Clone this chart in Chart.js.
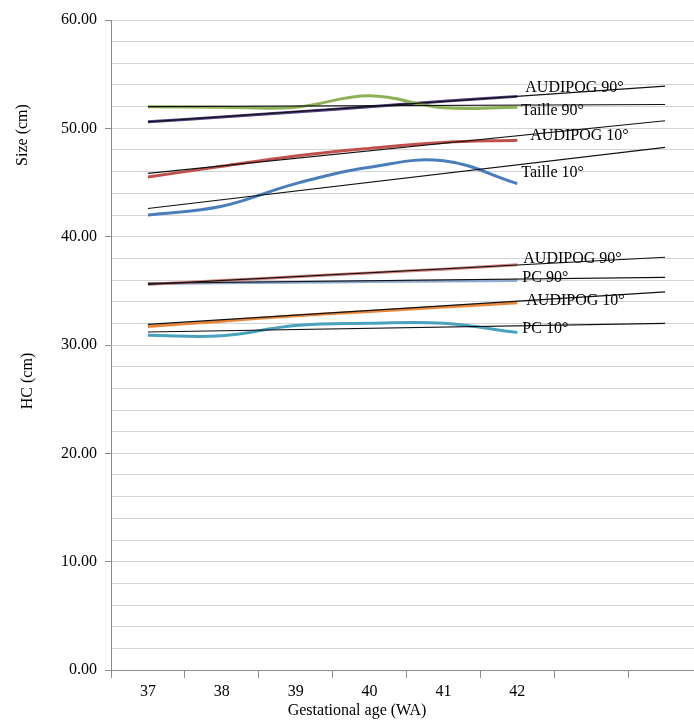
<!DOCTYPE html>
<html>
<head>
<meta charset="utf-8">
<script src="https://cdn.jsdelivr.net/npm/chart.js@4.4.1/dist/chart.umd.min.js"></script>
<style>
    html, body { margin: 0; padding: 0; background: #fff; overflow: hidden; }
</style>
</head>
<body>
<canvas id="chart" width="702" height="722"></canvas>
<script>
// semaines d'aménorrhée, les deux dernières catégories servent au prolongement des tendances
const weeks = ['37', '38', '39', '40', '41', '42', '', '']

// taille (cm)
const taille90 = [52.0, 51.95, 51.95, 53.0, 51.9, 51.95]
const audipogSize90 = [50.6, 51.05, 51.5, 52.0, 52.5, 52.95]
const audipogSize10 = [45.5, 46.5, 47.45, 48.15, 48.7, 48.9]
const taille10 = [42.0, 42.8, 44.9, 46.4, 47.0, 44.9]

// périmètre crânien (cm)
const audipogHc90 = [35.6, 35.95, 36.3, 36.65, 37.0, 37.4]
const pc90 = [35.65, 35.75, 35.8, 35.85, 35.9, 35.95]
const audipogHc10 = [31.7, 32.2, 32.7, 33.1, 33.5, 33.9]
const pc10 = [30.9, 30.85, 31.8, 32.0, 32.0, 31.15]

// courbes de tendance : valeur à 37 SA et valeur au bout du prolongement
const trendTaille90 = [52.0, 52.2]
const trendAudipogSize90 = [50.6, 53.9]
const trendAudipogSize10 = [45.85, 50.7]
const trendTaille10 = [42.6, 48.25]
const trendAudipogHc90 = [35.6, 38.1]
const trendPc90 = [35.7, 36.25]
const trendAudipogHc10 = [31.9, 34.9]
const trendPc10 = [31.2, 32.0]

// étiquettes à droite des courbes
const labelTexts = ['AUDIPOG 90°', 'Taille 90°', 'AUDIPOG 10°', 'Taille 10°', 'AUDIPOG 90°', 'PC 90°', 'AUDIPOG 10°', 'PC 10°']
const labelValues = [53.72, 51.63, 49.29, 45.9, 38.0, 36.2, 34.05, 31.5]
const labelShift = [8, 4, 13, 4, 6, 5, 9, 5]

const yTicks = [0, 10, 20, 30, 40, 50, 60]

const serif = '"Liberation Serif", "Times New Roman", serif'
Chart.defaults.font.family = serif
Chart.defaults.font.size = 16
Chart.defaults.color = '#000'

const trend = (pair) => {
    let arr = weeks.map(() => null)
    arr[0] = pair[0]
    arr[weeks.length - 1] = pair[1]
    return arr
}

const series = (values, color) => ({
    data: values,
    borderColor: color,
    backgroundColor: color,
    borderWidth: 3,
    pointRadius: 0,
    tension: 0.4,
    order: 1
})

const trendSet = (pair) => ({
    data: trend(pair),
    borderColor: '#111',
    backgroundColor: '#111',
    borderWidth: 1.2,
    pointRadius: 0,
    tension: 0,
    spanGaps: true,
    order: 0
})

const textPlugin = {
    id: 'texts',
    afterDraw(chart) {
        const ctx = chart.ctx
        const x = chart.scales.x
        const y = chart.scales.y
        ctx.save()
        ctx.font = '16px ' + serif
        ctx.fillStyle = '#000'
        ctx.textBaseline = 'middle'
        ctx.textAlign = 'left'
        labelTexts.forEach((t, i) => {
            ctx.fillText(t, x.getPixelForValue(5) + labelShift[i], y.getPixelForValue(labelValues[i]))
        })

        // titres des axes
        ctx.textAlign = 'center'
        ctx.fillText('Gestational age (WA)', 357, 711)
        ctx.save()
        ctx.translate(23, 135)
        ctx.rotate(-Math.PI / 2)
        ctx.fillText('Size (cm)', 0, 0)
        ctx.restore()
        ctx.save()
        ctx.translate(28, 381)
        ctx.rotate(-Math.PI / 2)
        ctx.fillText('HC (cm)', 0, 0)
        ctx.restore()
        ctx.restore()
    }
}

const context = document.getElementById('chart').getContext('2d')
const chart = new Chart(context, {
    type: 'line',
    data: {
        labels: weeks,
        datasets: [
            series(taille90, '#8DB255'),
            series(audipogSize90, '#56418A'),
            series(audipogSize10, '#C0504D'),
            series(taille10, '#4A7EBB'),
            series(audipogHc90, '#D4847F'),
            series(pc90, '#8EA9D0'),
            series(audipogHc10, '#E8863A'),
            series(pc10, '#48A2BD'),
            trendSet(trendTaille90),
            trendSet(trendAudipogSize90),
            trendSet(trendAudipogSize10),
            trendSet(trendTaille10),
            trendSet(trendAudipogHc90),
            trendSet(trendPc90),
            trendSet(trendAudipogHc10),
            trendSet(trendPc10)
        ]
    },
    options: {
        responsive: false,
        animation: false,
        devicePixelRatio: 1,
        layout: {
            padding: { top: 20, left: 0, right: 0, bottom: 0 }
        },
        plugins: {
            legend: { display: false },
            tooltip: { enabled: false }
        },
        scales: {
            x: {
                offset: true,
                grid: {
                    offset: true,
                    drawOnChartArea: false,
                    tickLength: 8,
                    color: '#8c8c8c'
                },
                border: { color: '#8c8c8c' },
                ticks: {
                    padding: 4,
                    autoSkip: false,
                    maxRotation: 0,
                    font: { size: 16, family: serif }
                },
                afterFit: (scale) => { scale.height = 52 }
            },
            y: {
                min: 0,
                max: 60,
                grid: {
                    color: '#d4d4d4',
                    tickLength: 6,
                    tickColor: (c) => (c.tick && yTicks.includes(c.tick.value)) ? '#8c8c8c' : 'rgba(0,0,0,0)'
                },
                border: { color: '#8c8c8c' },
                ticks: {
                    stepSize: 2,
                    padding: 8,
                    autoSkip: false,
                    font: { size: 16, family: serif },
                    callback: (v) => yTicks.includes(v) ? v.toFixed(2) : ''
                },
                afterFit: (scale) => { scale.width = 111 }
            }
        }
    },
    plugins: [textPlugin]
})
</script>
</body>
</html>
